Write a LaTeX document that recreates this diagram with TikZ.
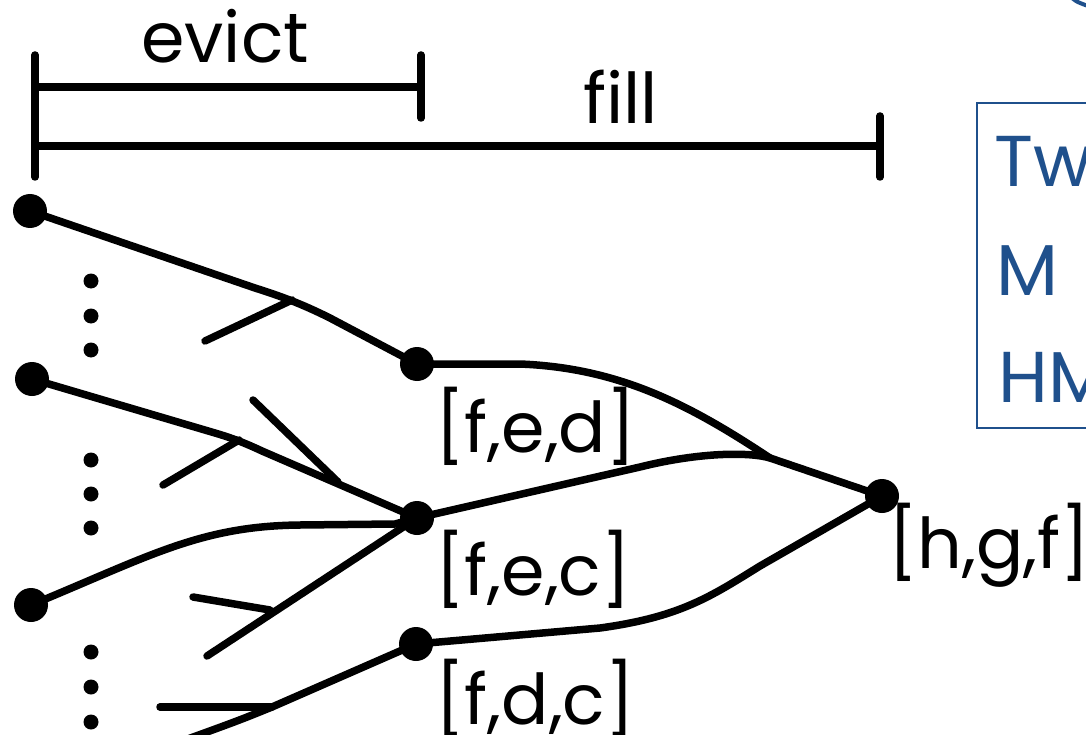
\documentclass[tikz,border=0pt]{standalone}
\usepackage{fontspec}
\setmainfont{Poppins}
\definecolor{slideblue}{RGB}{31,80,140}
\tikzset{
  edge/.style={line width=7.5pt, line cap=round, line join=round},
  bigdot/.style={circle, fill=black, inner sep=0pt, minimum size=34pt},
  smalldot/.style={circle, fill=black, inner sep=0pt, minimum size=15pt},
  lbl/.style={font=\fontsize{70}{84}\selectfont, inner sep=0pt, anchor=base west},
  bluelbl/.style={font=\fontsize{72}{86}\selectfont, text=slideblue, inner sep=0pt, anchor=base west}
}
\begin{document}
\begin{tikzpicture}[x=1pt,y=-1pt]
\useasboundingbox (0,0) rectangle (1086,735);
\fill[white] (0,0) rectangle (1086,735);

% brackets
\coordinate (b0t) at (35,55);
\coordinate (b0b) at (35,177);
\coordinate (e0) at (35,87);
\coordinate (e1) at (421,87);
\coordinate (e1t) at (421,55);
\coordinate (e1b) at (421,118);
\coordinate (f0) at (35,146);
\coordinate (f1) at (880,146);
\coordinate (f1t) at (880,116);
\coordinate (f1b) at (880,177);
\draw[edge] (b0t) -- (b0b);
\draw[edge] (e0) -- (e1);
\draw[edge] (e1t) -- (e1b);
\draw[edge] (f0) -- (f1);
\draw[edge] (f1t) -- (f1b);
\node[lbl] (evict) at (141,63) {evict};
\node[lbl] (fill) at (583,124) {fill};

% nodes
\node[bigdot] (L1) at (30,211) {};
\node[bigdot] (L2) at (32,379) {};
\node[bigdot] (L3) at (31,605) {};
\node[bigdot] (M1) at (417,364) {};
\node[bigdot] (M2) at (417,518) {};
\node[bigdot] (M3) at (416,644) {};
\node[bigdot] (R) at (882,496) {};

% small dots
\foreach \y/\n in {281/a,316/b,350/c,460/d,494/e,528/f,652/g,687/h,722/i}
  \node[smalldot] (s\n) at (91,\y) {};

% edges left part
\coordinate (k1) at (292,300);
\coordinate (k1s) at (205,341);
\draw[edge] (L1.center) -- (255,288) .. controls (280,296) and (300,303) .. (330,318) -- (M1.center);
\draw[edge] (k1) -- (k1s);

\coordinate (k2) at (239,440);
\coordinate (k2s) at (163,485);
\coordinate (k3) at (338,482);
\coordinate (k3s) at (253,400);
\draw[edge] (L2.center) -- (215,433) .. controls (232,438) and (245,443) .. (262,451) -- (M2.center);
\draw[edge] (k2) -- (k2s);
\draw[edge] (k3) -- (k3s);

\draw[edge] (L3.center) .. controls (150,556) and (200,526) .. (300,525) -- (395,524) -- (M2.center);

\coordinate (d1) at (207,656);
\coordinate (k4) at (270,610);
\coordinate (k4s) at (193,597);
\draw[edge] (M2.center) -- (d1);
\draw[edge] (k4) -- (k4s);

\coordinate (d2) at (185,740);
\coordinate (k5) at (272,707);
\coordinate (k5s) at (160,707);
\draw[edge] (M3.center) -- (272,707) .. controls (240,720) .. (d2);
\draw[edge] (k5) -- (k5s);

% edges right part
\coordinate (J) at (770,458);
\draw[edge] (M1.center) -- (520,364) .. controls (620,368) and (690,405) .. (J);
\draw[edge] (M2.center) -- (640,467) .. controls (700,452) and (750,452) .. (J) -- (R.center);
\draw[edge] (M3.center) -- (600,628) .. controls (680,617) and (710,597) .. (760,566) -- (R.center);

% labels
\node[lbl] (tfed) at (435,452) {[f,e,d]};
\node[lbl] (tfec) at (435,595) {[f,e,c]};
\node[lbl] (tfdc) at (435,724) {[f,d,c]};
\node[lbl] (thgf) at (888,568) {[h,g,f]};

% blue box
\draw[slideblue, line width=2pt] (1090,103) -- (977,103) -- (977,428) -- (1090,428);
\node[bluelbl] (t1) at (994,187) {Tw};
\node[bluelbl] (t2) at (996,295) {M};
\node[bluelbl] (t3) at (998,402) {HM};
\draw[slideblue, line width=4pt] (1072,-2) .. controls (1077,2) .. (1088,6);
\end{tikzpicture}
\end{document}
